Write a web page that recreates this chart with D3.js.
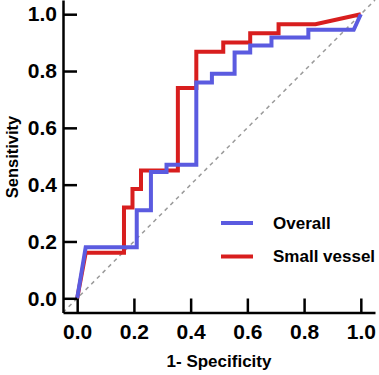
<!DOCTYPE html>
<meta charset="utf-8">
<script src="https://d3js.org/d3.v7.min.js"></script>
<style>
  body { margin: 0; background: #fff; }
  svg text { font-family: "Liberation Sans", Arial, sans-serif; font-weight: bold; fill: #000; }
</style>
<svg id="chart"></svg>
<script>
// ROC curves
var overallX = [0, 0.03, 0.21, 0.21, 0.26, 0.26, 0.315, 0.315, 0.42, 0.42, 0.475, 0.475, 0.555, 0.555, 0.61, 0.61, 0.685, 0.685, 0.815, 0.815, 0.975, 1];
var overallY = [0, 0.18, 0.18, 0.31, 0.31, 0.445, 0.445, 0.47, 0.47, 0.76, 0.76, 0.79, 0.79, 0.865, 0.865, 0.89, 0.89, 0.918, 0.918, 0.945, 0.945, 1];

var smallX = [0, 0.03, 0.165, 0.165, 0.195, 0.195, 0.225, 0.225, 0.355, 0.355, 0.42, 0.42, 0.515, 0.515, 0.61, 0.61, 0.71, 0.71, 0.84, 1];
var smallY = [0, 0.16, 0.16, 0.32, 0.32, 0.385, 0.385, 0.45, 0.45, 0.74, 0.74, 0.868, 0.868, 0.9, 0.9, 0.933, 0.933, 0.965, 0.965, 1];

var tickValues = [0, 0.2, 0.4, 0.6, 0.8, 1.0];
var seriesNames = ["Overall", "Small vessel"];
var seriesColors = ["#5b5be0", "#d81e1e"];

var width = 379, height = 375;
var svg = d3.select("#chart").attr("width", width).attr("height", height);

var x = d3.scaleLinear().domain([-0.05, 1.05]).range([63, 375]);
var y = d3.scaleLinear().domain([-0.05, 1.05]).range([312.5, 0]);

// reference diagonal
svg.append("line")
  .attr("x1", x(-0.05)).attr("y1", y(-0.05))
  .attr("x2", x(1.05)).attr("y2", y(1.05))
  .attr("stroke", "#9a9a9a")
  .attr("stroke-width", 1.5)
  .attr("stroke-dasharray", "4,4");

var line = d3.line()
  .x(function (d) { return x(d[0]); })
  .y(function (d) { return y(d[1]); });

var series = [
  d3.zip(overallX, overallY),
  d3.zip(smallX, smallY)
];

// red below, blue on top
[1, 0].forEach(function (i) {
  svg.append("path")
    .datum(series[i])
    .attr("d", line)
    .attr("fill", "none")
    .attr("stroke", seriesColors[i])
    .attr("stroke-width", 4)
    .attr("stroke-linejoin", "miter");
});

// axes, ticks pointing inward
var xAxis = svg.append("g")
  .attr("transform", "translate(0," + y.range()[0] + ")")
  .call(d3.axisBottom(x).tickValues(tickValues).tickFormat(d3.format(".1f"))
    .tickSizeInner(-14).tickSizeOuter(0).tickPadding(12));

var yAxis = svg.append("g")
  .attr("transform", "translate(" + x.range()[0] + ",0)")
  .call(d3.axisLeft(y).tickValues(tickValues).tickFormat(d3.format(".1f"))
    .tickSizeInner(-14).tickSizeOuter(0).tickPadding(6));

[xAxis, yAxis].forEach(function (g) {
  g.selectAll("path, line").attr("stroke", "#000").attr("stroke-width", 2.5);
  g.selectAll("text").style("font-size", "21px");
});

// axis titles
svg.append("text")
  .attr("x", 219).attr("y", 367)
  .attr("text-anchor", "middle")
  .style("font-size", "17px")
  .text("1- Specificity");

svg.append("text")
  .attr("transform", "translate(17.5,157) rotate(-90)")
  .attr("text-anchor", "middle")
  .style("font-size", "16.5px")
  .text("Sensitivity");

// legend
var legend = svg.append("g").attr("transform", "translate(221,223)");
seriesNames.forEach(function (name, i) {
  legend.append("line")
    .attr("x1", 0).attr("x2", 32)
    .attr("y1", i * 33.5).attr("y2", i * 33.5)
    .attr("stroke", seriesColors[i])
    .attr("stroke-width", 4);
  legend.append("text")
    .attr("x", 52).attr("y", i * 33.5)
    .attr("dy", "0.35em")
    .style("font-size", "17px")
    .text(name);
});
</script>
